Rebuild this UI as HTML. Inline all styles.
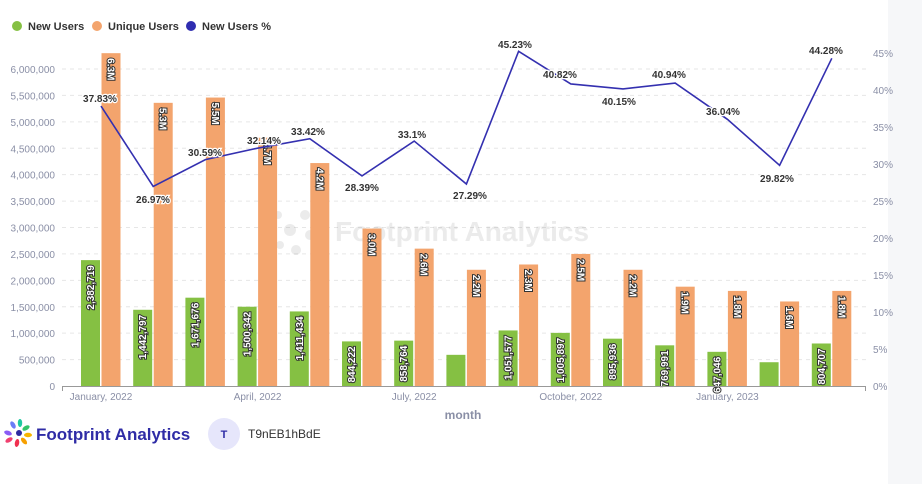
<!DOCTYPE html>
<html><head><meta charset="utf-8"><style>
html,body{margin:0;padding:0;background:#fff;}
body{width:922px;height:484px;overflow:hidden;position:relative;font-family:"Liberation Sans",sans-serif;}
</style></head><body>
<div style="position:absolute;left:888px;top:0;width:34px;height:484px;background:#f6f7f9"></div>
<svg width="922" height="484" style="position:absolute;left:0;top:0" font-family="Liberation Sans, sans-serif">
<g font-size="11" font-weight="bold" fill="#333">
<circle cx="17" cy="26" r="5" fill="#85c043"/><text x="28" y="30">New Users</text>
<circle cx="97" cy="26" r="5" fill="#f3a46d"/><text x="108" y="30">Unique Users</text>
<circle cx="191" cy="26" r="5" fill="#2f2db0"/><text x="202" y="30">New Users %</text>
</g>
<g id="grid" stroke="#e6e6e6" stroke-dasharray="4,4"></g>
<g id="lt" font-size="10" fill="#8a8fa6" text-anchor="end"></g>
<g id="rt" font-size="10" fill="#8a8fa6"></g>
<g opacity="0.16" fill="#888">
<circle cx="290" cy="230" r="6"/><circle cx="305" cy="215" r="5"/><circle cx="278" cy="215" r="4"/><circle cx="310" cy="235" r="5"/><circle cx="296" cy="250" r="5"/><circle cx="280" cy="245" r="4"/>
<text x="335" y="241" font-size="28" font-weight="bold">Footprint Analytics</text>
</g>
<g id="bars"></g>
<line x1="62" y1="386.5" x2="866" y2="386.5" stroke="#999"/>
<line x1="62.5" y1="386" x2="62.5" y2="391" stroke="#999"/><line x1="865.5" y1="386" x2="865.5" y2="391" stroke="#999"/>
<g id="xl" font-size="10" fill="#8a8fa6" text-anchor="middle"></g>
<text x="463" y="419" font-size="12" font-weight="bold" fill="#8a8fa6" text-anchor="middle">month</text>
<polyline id="ln" fill="none" stroke="#3430b0" stroke-width="1.6"/>
<g id="pl" font-size="10" font-weight="bold" fill="#333" text-anchor="middle" stroke="#fff" stroke-width="2.5" paint-order="stroke"></g>
<g>
<ellipse cx="8" cy="433" rx="4" ry="2.2" fill="#8a5cf5" transform="rotate(20 8 433)"/>
<ellipse cx="13" cy="425" rx="4" ry="2.2" fill="#6b7cf6" transform="rotate(60 13 425)"/>
<ellipse cx="20" cy="423" rx="4" ry="2.2" fill="#1ec9a0" transform="rotate(90 20 423)"/>
<ellipse cx="26" cy="428" rx="4" ry="2.2" fill="#33c36a" transform="rotate(-30 26 428)"/>
<ellipse cx="28" cy="435" rx="4" ry="2.2" fill="#f7b500"/>
<ellipse cx="24" cy="441" rx="4" ry="2.2" fill="#f7a000" transform="rotate(50 24 441)"/>
<ellipse cx="17" cy="443" rx="4" ry="2.2" fill="#f0304f" transform="rotate(100 17 443)"/>
<ellipse cx="9" cy="440" rx="4" ry="2.2" fill="#f0406f" transform="rotate(-30 9 440)"/>
<circle cx="19" cy="433" r="3" fill="#2e2aa0"/>
</g>
<text x="36" y="440" font-size="17" font-weight="bold" fill="#2f2ca6">Footprint Analytics</text>
<circle cx="224" cy="434" r="16" fill="#e6e6fb"/>
<text x="224" y="438" font-size="11" font-weight="bold" fill="#2f2ca6" text-anchor="middle">T</text>
<text x="248" y="438" font-size="12" fill="#333">T9nEB1hBdE</text>
</svg>
<script>
const NS="http://www.w3.org/2000/svg";
function el(p,t,a,tx){const e=document.createElementNS(NS,t);for(const k in a)e.setAttribute(k,a[k]);if(tx!==undefined)e.textContent=tx;document.getElementById(p).appendChild(e);return e;}
const z=386,k=52.83/1e6;
for(let i=1;i<=12;i++){const y=z-i*500000*k;el("grid","line",{x1:62,x2:866,y1:y,y2:y});}
for(let i=0;i<=12;i++){const v=i*500000;el("lt","text",{x:55,y:z-v*k+4},v.toLocaleString("en-US"));}
for(let i=0;i<=9;i++){el("rt","text",{x:873,y:z-i*5*7.4+4},(i*5)+"%");}
const g=[2382719,1442797,1671676,1500342,1411434,844222,858764,590000,1051577,1005897,895936,769991,647046,450000,804707];
const gl=[1,1,1,1,1,1,1,0,1,1,1,1,1,0,1];
const o=[6.3,5.36,5.46,4.7,4.22,2.98,2.6,2.2,2.3,2.5,2.2,1.88,1.8,1.6,1.8];
const ol=["6.3","5.3","5.5","4.7","4.2","3.0","2.6","2.2","2.3","2.5","2.2","1.9","1.8","1.6","1.8"];
const p=[37.83,26.97,30.59,32.14,33.42,28.39,33.1,27.29,45.23,40.82,40.15,40.94,36.04,29.82,44.28];
const lp=[[100,98],[153,199],[205,152],[264,140],[308,131],[362,187],[412,134],[470,195],[515,44],[560,74],[619,101],[669,74],[723,111],[777,178],[826,50]];
let pts=[];
for(let i=0;i<15;i++){
 const x=81+52.2*i;
 const gy=z-g[i]*k, oy=z-o[i]*1e6*k;
 el("bars","rect",{x:x,y:gy,width:19,height:z-gy,fill:"#85c043"});
 el("bars","rect",{x:x+20.5,y:oy,width:19,height:z-oy,fill:"#f3a46d"});
 const s={"font-size":10,"font-weight":"bold",fill:"#fff",stroke:"#333","stroke-width":2,"paint-order":"stroke","font-family":"Liberation Sans, sans-serif"};
 if(gl[i]){const cx=x+9.5+3.5,ty=gy+5;el("bars","text",Object.assign({x:cx,y:ty,transform:`rotate(-90 ${cx} ${ty})`,"text-anchor":"end"},s),g[i].toLocaleString("en-US"));}
 {const cx=x+30-3.5,ty=oy+5;el("bars","text",Object.assign({x:cx,y:ty,transform:`rotate(90 ${cx} ${ty})`,"text-anchor":"start"},s),ol[i]+"M");}
 const px=x+20,py=z-p[i]*7.4;pts.push(px+","+py);
 el("pl","text",{x:lp[i][0],y:lp[i][1]+4},p[i]+"%");
}
document.getElementById("ln").setAttribute("points",pts.join(" "));
const xl=[[0,"January, 2022"],[3,"April, 2022"],[6,"July, 2022"],[9,"October, 2022"],[12,"January, 2023"]];
xl.forEach(([i,t])=>el("xl","text",{x:81+52.2*i+20,y:400},t));
</script>
</body></html>
